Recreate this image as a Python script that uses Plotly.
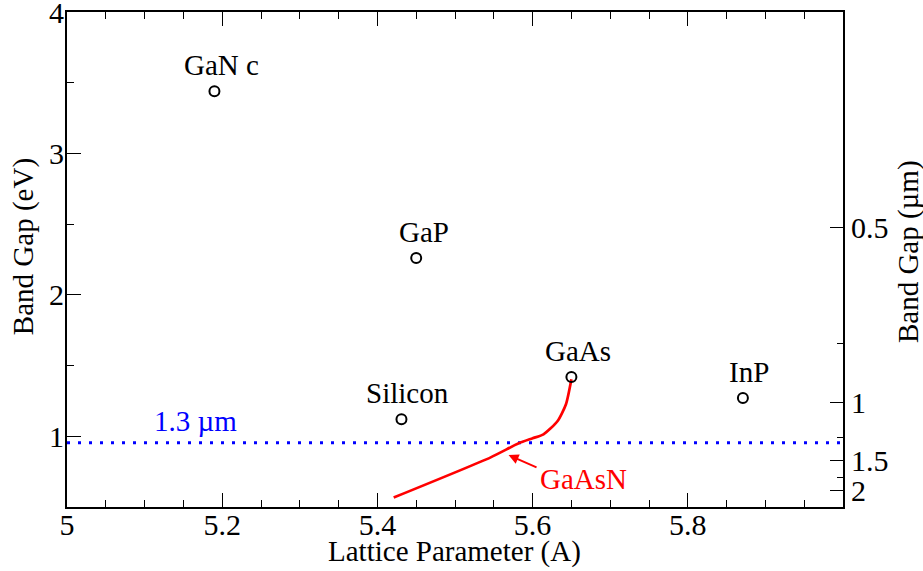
import plotly.graph_objects as go

# Semiconductor lattice constants (Angstrom) and band gaps (eV)
materials = ["GaN c", "GaP", "GaAs", "Silicon", "InP"]
lattice = [5.19, 5.45, 5.65, 5.431, 5.871]
gap_ev = [3.44, 2.26, 1.42, 1.12, 1.27]

# GaAsN alloy curve
gaasn_a = [5.650, 5.643, 5.632, 5.614, 5.600, 5.582, 5.546, 5.421]
gaasn_eg = [1.404, 1.227, 1.106, 1.014, 0.986, 0.950, 0.851, 0.567]

# Wavelength axis (micrometres)
wl_major = [0.5, 1, 1.5, 2]
wl_minor = [0.75, 1.25, 1.75]
wl_target = 1.3

HC = 1.2398  # eV * um


def ev(lam):
    return HC / lam


FONT = "Liberation Serif, Times New Roman, serif"
SIZE = 29
TICK_SIZE = 30

fig = go.Figure()

# 1.3 um reference line
fig.add_trace(go.Scatter(
    x=[5.0, 6.0], y=[ev(wl_target)] * 2, mode="lines",
    line=dict(color="#0000ff", width=3, dash="3px,8px"),
    hoverinfo="skip", showlegend=False,
))

fig.add_trace(go.Scatter(
    x=gaasn_a, y=gaasn_eg, mode="lines",
    line=dict(color="#ff0000", width=2.7, shape="spline", smoothing=0.6),
    showlegend=False,
))

fig.add_trace(go.Scatter(
    x=lattice, y=gap_ev, mode="markers",
    marker=dict(symbol="circle-open", size=10, color="black", line=dict(width=2)),
    showlegend=False,
))

# Invisible traces to activate the right-hand and top axes
fig.add_trace(go.Scatter(x=[5.0], y=[1.0], yaxis="y2", mode="markers",
                         marker=dict(opacity=0), hoverinfo="skip", showlegend=False))
fig.add_trace(go.Scatter(x=[5.0], y=[1.0], xaxis="x2", mode="markers",
                         marker=dict(opacity=0), hoverinfo="skip", showlegend=False))

label_dx = {"GaN c": 7, "GaP": 8, "GaAs": 7, "Silicon": 6, "InP": 6}
for name, a, e in zip(materials, lattice, gap_ev):
    fig.add_annotation(x=a, y=e, text=name, showarrow=False, xshift=label_dx[name], yshift=26,
                       font=dict(family=FONT, size=SIZE, color="black"))

fig.add_annotation(x=5.166, y=ev(wl_target), yshift=22, text="1.3 µm", showarrow=False,
                   font=dict(family=FONT, size=SIZE, color="#0000ff"))

# Arrow pointing at the GaAsN curve
fig.add_annotation(x=5.569, y=0.867, ax=5.607, ay=0.776, axref="x", ayref="y",
                   text="", showarrow=True, arrowhead=2, arrowsize=1, arrowwidth=2,
                   arrowcolor="#ff0000")
fig.add_annotation(x=5.6065, y=0.70, text="GaAsN", showarrow=False, xanchor="left",
                   font=dict(family=FONT, size=SIZE, color="#ff0000"))

# Axis titles
title_font = dict(family=FONT, size=SIZE, color="black")
fig.add_annotation(xref="paper", yref="paper", x=0.5, y=0, yshift=-44, xshift=-1,
                   xanchor="center", yanchor="middle",
                   text="Lattice Parameter (A)", showarrow=False, font=title_font)
fig.add_annotation(xref="paper", yref="paper", x=0, y=0.525, xshift=-44, textangle=-90,
                   xanchor="center", yanchor="middle",
                   text="Band Gap (eV)", showarrow=False, font=title_font)
fig.add_annotation(xref="paper", yref="paper", x=1, y=0.515, xshift=65, textangle=-90,
                   xanchor="center", yanchor="middle",
                   text="Band Gap (µm)", showarrow=False, font=title_font)

axis_font = dict(family=FONT, size=TICK_SIZE, color="black")
x_ticks = dict(ticks="inside", ticklen=14, tickwidth=1.3, tickcolor="black",
               minor=dict(dtick=0.05, tick0=5, ticks="inside", ticklen=7, tickwidth=1.3,
                          tickcolor="black"))

fig.update_layout(
    width=923, height=571,
    margin=dict(l=67, r=80, t=12, b=64, autoexpand=False),
    paper_bgcolor="white", plot_bgcolor="white",
    font=dict(family=FONT, color="black"),
    xaxis=dict(
        range=[5.0, 6.0], tickmode="array", tickvals=[5, 5.2, 5.4, 5.6, 5.8],
        ticktext=["5", "5.2", "5.4", "5.6", "5.8"], **x_ticks,
        showline=True, linecolor="black", linewidth=2,
        showgrid=False, zeroline=False, tickfont=axis_font, automargin=False,
        ticklabeloverflow="allow", ticklabelstandoff=-10,
    ),
    xaxis2=dict(
        overlaying="x", side="top", anchor="y", range=[5.0, 6.0],
        tickmode="array", tickvals=[5, 5.2, 5.4, 5.6, 5.8], **x_ticks,
        showticklabels=False, showline=True, linecolor="black", linewidth=2,
        showgrid=False, zeroline=False, automargin=False,
    ),
    yaxis=dict(
        range=[0.5, 4.0], tickmode="array", tickvals=[1, 2, 3, 4],
        ticks="inside", ticklen=14, tickwidth=1.3, tickcolor="black",
        minor=dict(tickmode="array", tickvals=[1.5, 2.5, 3.5], ticks="inside", ticklen=7,
                   tickwidth=1.3, tickcolor="black"),
        showline=True, linecolor="black", linewidth=2, mirror=False,
        showgrid=False, zeroline=False, tickfont=axis_font, automargin=False,
        ticklabeloverflow="allow", ticklabelstandoff=-5,
    ),
    yaxis2=dict(
        overlaying="y", side="right", range=[0.5, 4.0],
        tickmode="array", tickvals=[ev(w) for w in wl_major], ticktext=[f"{w:g}" for w in wl_major],
        ticks="inside", ticklen=13, tickwidth=1.3, tickcolor="black",
        minor=dict(tickmode="array", tickvals=[ev(w) for w in wl_minor], ticks="inside",
                   ticklen=6, tickwidth=1.3, tickcolor="black"),
        showline=True, linecolor="black", linewidth=2,
        showgrid=False, zeroline=False, tickfont=axis_font, automargin=False,
        ticklabeloverflow="allow",
    ),
)

fig.write_html("out.html")
